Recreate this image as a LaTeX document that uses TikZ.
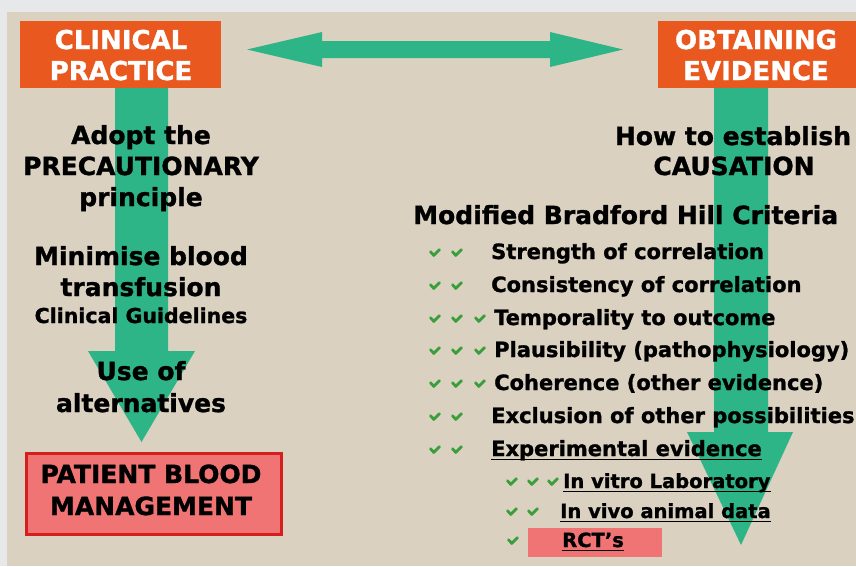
\documentclass[tikz,border=0pt]{standalone}
\usepackage{fontspec}
\setmainfont{DejaVu Sans}[BoldFeatures={FakeBold=1.2}]
\definecolor{framegrey}{HTML}{E7E8EA}
\definecolor{panelbeige}{HTML}{DAD1C0}
\definecolor{arrowgreen}{HTML}{2DB487}
\definecolor{boxorange}{HTML}{E9581E}
\definecolor{pbmfill}{HTML}{F07474}
\definecolor{pbmborder}{HTML}{D51F1F}
\definecolor{checkgreen}{HTML}{3A9E3A}
\begin{document}
\begin{tikzpicture}[x=1pt,y=-1pt,
  txt/.style={inner sep=0pt, anchor=base, text=black},
  txtw/.style={txt, anchor=base west},
  fbig/.style={font=\bfseries\fontsize{25}{30}\selectfont},
  fmid/.style={font=\bfseries\fontsize{21}{26}\selectfont},
  fsmall/.style={font=\bfseries\fontsize{19.5}{24}\selectfont},
  ftitle/.style={font=\bfseries\fontsize{26}{31}\selectfont},
  obox/.style={fill=boxorange, draw=none, inner sep=0pt},
  ul/.style={line width=1.8pt, black},
  chk/.pic={\draw[checkgreen, line width=2.8pt, line cap=round, line join=round] (-4.5,-1.3) -- (-1.2,2.4) -- (4.5,-3.4);}
]
\useasboundingbox (0,0) rectangle (856,566);
% background
\fill[framegrey] (0,0) rectangle (856,566);
\fill[panelbeige] (7,12) rectangle (856,566);

% boxes
\node[obox, minimum width=201pt, minimum height=67pt] (cp) at (120.5,54.5) {};
\node[obox, minimum width=198pt, minimum height=67pt] (oe) at (757,54.5) {};
\node[fill=pbmfill, draw=pbmborder, line width=3pt, inner sep=0pt, minimum width=255pt, minimum height=81pt] (pbm) at (154,494) {};
\node[fill=pbmfill, draw=none, inner sep=0pt, minimum width=134pt, minimum height=29pt] (rctbox) at (595,542.5) {};

% block arrows
\fill[arrowgreen] (247,49.5) -- (322,32) -- (322,41) -- (550,41) -- (550,32) -- (623,49.5)
  -- (550,67) -- (550,58) -- (322,58) -- (322,67) -- cycle;
\fill[arrowgreen] (115,88) -- (168,88) -- (168,351) -- (195,351) -- (141.5,442) -- (88,351) -- (115,351) -- cycle;
\fill[arrowgreen] (714,88) -- (768,88) -- (768,432) -- (793,432) -- (741,545) -- (687,432) -- (714,432) -- cycle;

% box titles
\node[txt, ftitle, text=white] (cp1) at (121,49) {CLINICAL};
\node[txt, ftitle, text=white] (cp2) at (121,80) {PRACTICE};
\node[txt, ftitle, text=white] (oe1) at (756,49) {OBTAINING};
\node[txt, ftitle, text=white] (oe2) at (756,80) {EVIDENCE};

% left column
\node[txt, fbig] (adopt) at (141,144) {Adopt the};
\node[txt, fbig] (prec) at (141,175) {PRECAUTIONARY};
\node[txt, fbig] (princ) at (141,206) {principle};
\node[txt, fbig] (minim) at (141,265) {Minimise blood};
\node[txt, fbig] (transf) at (141,296) {transfusion};
\node[txt, font=\bfseries\fontsize{20.5}{25}\selectfont] (guide) at (141,323) {Clinical Guidelines};
\node[txt, fbig] (use) at (141,380) {Use of};
\node[txt, fbig] (alt) at (141,412) {alternatives};
\node[txt, fbig] (pbm1) at (151,483) {PATIENT BLOOD};
\node[txt, fbig] (pbm2) at (151,515) {MANAGEMENT};

% right column
\node[txt, fbig] (how) at (733,145) {How to establish};
\node[txt, fbig] (caus) at (734,175) {CAUSATION};
\node[txtw, fbig] (mbh) at (413,224) {Modified Bradford Hill Criteria};

\node[txtw, fmid] (c1) at (491,259) {Strength of correlation};
\node[txtw, fmid] (c2) at (491,292) {Consistency of correlation};
\node[txtw, fmid] (c3) at (494,325) {Temporality to outcome};
\node[txtw, fmid] (c4) at (494,357) {Plausibility (pathophysiology)};
\node[txtw, fmid] (c5) at (494,390) {Coherence (other evidence)};
\node[txtw, fmid] (c6) at (491,423) {Exclusion of other possibilities};
\node[txtw, fmid] (c7) at (491,456) {Experimental evidence};
\node[txtw, fsmall] (s1) at (563,488) {In vitro Laboratory};
\node[txtw, fsmall] (s2) at (560,518) {In vivo animal data};
\node[txtw, fsmall] (s3) at (562,547) {RCT’s};

% underlines
\foreach \n in {c7,s1,s2,s3}
  \draw[ul] ([yshift=-3.5pt]\n.base west) -- ([yshift=-3.5pt]\n.base east);

% check marks
\foreach \yy in {253,286,319,351,384,417,450}
  { \pic at (435,\yy) {chk}; \pic at (457,\yy) {chk}; }
\foreach \yy in {319,351,384}
  { \pic at (480,\yy) {chk}; }
\pic at (512,482) {chk}; \pic at (533,482) {chk}; \pic at (553,482) {chk};
\pic at (512,512) {chk}; \pic at (533,512) {chk};
\pic at (513,541) {chk};
\end{tikzpicture}
\end{document}
